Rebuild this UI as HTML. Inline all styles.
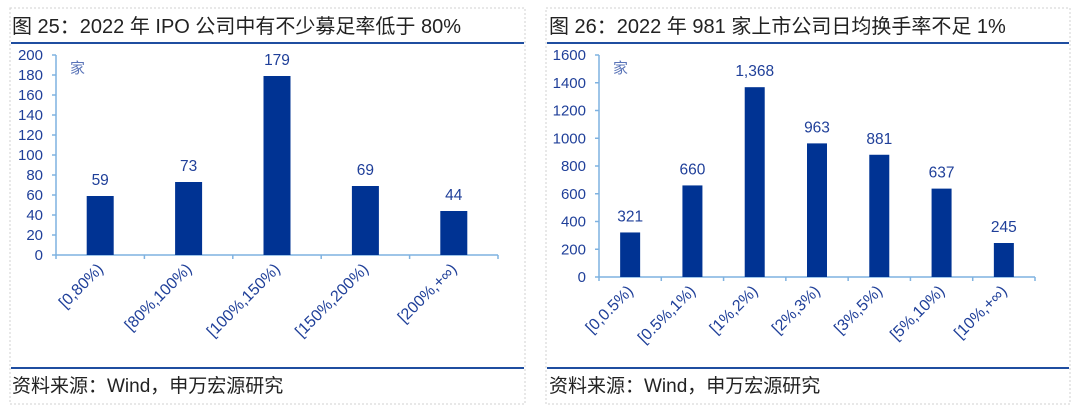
<!DOCTYPE html>
<html><head><meta charset="utf-8"><style>
body{margin:0;background:#fff;width:1080px;height:410px;overflow:hidden}
svg{display:block}
text{font-family:"Liberation Sans","Noto Sans CJK SC",sans-serif}
</style></head><body>
<svg id="s" width="1080" height="410">
<rect x="10" y="8" width="515" height="396" fill="none" stroke="#d0d0d0" stroke-dasharray="2,2"/>
<rect x="546" y="8" width="524" height="396" fill="none" stroke="#d0d0d0" stroke-dasharray="2,2"/>
<text x="12" y="33" font-size="20" fill="#222">图 25：2022 年 IPO 公司中有不少募足率低于 80%</text>
<text x="549" y="33" font-size="20" fill="#222">图 26：2022 年 981 家上市公司日均换手率不足 1%</text>
<line x1="11" y1="43" x2="524" y2="43" stroke="#1f4ea0" stroke-width="2"/>
<line x1="547" y1="43" x2="1069" y2="43" stroke="#1f4ea0" stroke-width="2"/>
<line x1="11" y1="368" x2="524" y2="368" stroke="#1f4ea0" stroke-width="2"/>
<line x1="547" y1="368" x2="1069" y2="368" stroke="#1f4ea0" stroke-width="2"/>
<text x="12" y="392" font-size="19" fill="#222">资料来源：Wind，申万宏源研究</text>
<text x="549" y="392" font-size="19" fill="#222">资料来源：Wind，申万宏源研究</text>
<g id="c1"></g><g id="c2"></g>
</svg>
<script>
const cats1=["[0,80%)","[80%,100%)","[100%,150%)","[150%,200%)","[200%,+∞)"];
const vals1=[59,73,179,69,44];
const labels1=["59","73","179","69","44"];
const ticks1=[0,20,40,60,80,100,120,140,160,180,200];
const cats2=["[0,0.5%)","[0.5%,1%)","[1%,2%)","[2%,3%)","[3%,5%)","[5%,10%)","[10%,+∞)"];
const vals2=[321,660,1368,963,881,637,245];
const labels2=["321","660","1,368","963","881","637","245"];
const ticks2=[0,200,400,600,800,1000,1200,1400,1600];
const NS="http://www.w3.org/2000/svg";
function mk(g,tag,attrs,txt){const e=document.createElementNS(NS,tag);for(const k in attrs)e.setAttribute(k,attrs[k]);if(txt!=null)e.textContent=txt;g.appendChild(e);return e;}
function chart(id,cats,vals,labels,ticks,x0,x1,y0,y1,max,bw,pfx){
 const g=document.getElementById(id);
 const y=v=>y0-(v/max)*(y0-y1);
 const step=(x1-x0)/cats.length;
 const x=i=>x0+step*(i+0.5);
 const ya=mk(g,'line',{x1:x0,y1:y1,x2:x0,y2:y0,stroke:'#7fb2e0','stroke-width':1.5});
 
 
 const xa=mk(g,'line',{x1:x0,y1:y0,x2:x1,y2:y0,stroke:'#7fb2e0','stroke-width':1.5});
 
 
 ticks.forEach(t=>{
  const tl=mk(g,'line',{x1:x0-4,y1:y(t),x2:x0,y2:y(t),stroke:'#7fb2e0','stroke-width':1.5});
  
  
  const tt=mk(g,'text',{x:x0-13,y:y(t)+5,'font-size':15,fill:'#1f3f99','text-anchor':'end'},String(t));
  
  
 });
 for(let i=0;i<=cats.length;i++){
  const tk=mk(g,'line',{x1:x0+step*i,y1:y0,x2:x0+step*i,y2:y0+4,stroke:'#7fb2e0','stroke-width':1.5});
  
  
 }
 const u=mk(g,'text',{x:x0+14,y:y1+18,'font-size':15,fill:'#5a74b8'},'家');
 
 
 vals.forEach((v,i)=>{
  const b=mk(g,'rect',{x:x(i)-bw/2,y:y(v),width:bw,height:y0-y(v),fill:'#003393'});
  
  
  const l=mk(g,'text',{x:x(i),y:y(v)-11,'font-size':15.5,fill:'#1f3f99','text-anchor':'middle'},labels[i]);
  
  
  const c=mk(g,'text',{x:x(i)+4,y:y0+15,'font-size':16,fill:'#1f3f99','text-anchor':'end',transform:`rotate(-45 ${x(i)+4} ${y0+15})`},cats[i]);
  
  
 });
}
chart('c1',cats1,vals1,labels1,ticks1,56,498,255,55,200,27,'left');
chart('c2',cats2,vals2,labels2,ticks2,599,1035,277,55,1600,20,'right');
</script>
</body></html>
